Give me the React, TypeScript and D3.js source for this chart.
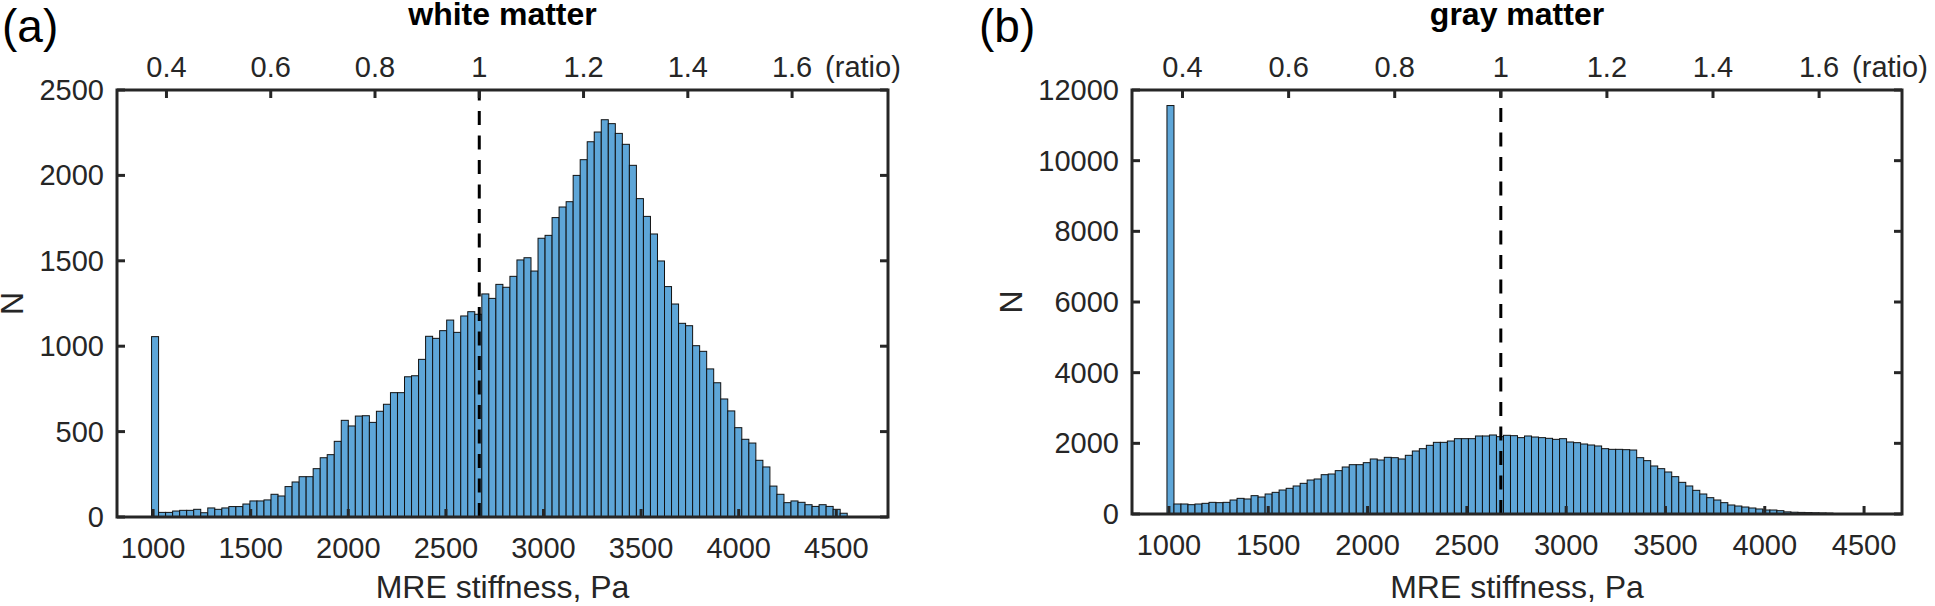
import React, { useEffect } from "react";
import * as d3 from "d3";

// ---------- data ----------
const X_TICKS = [1000, 1500, 2000, 2500, 3000, 3500, 4000, 4500];
const RATIO_TICKS = [0.4, 0.6, 0.8, 1, 1.2, 1.4, 1.6];
const REF_STIFFNESS = 2671; // ratio = 1

const WHITE_BIN_START = 992;
const WHITE_BIN_WIDTH = 36;
const WHITE_X_DOMAIN = [815, 4765];
const WHITE_Y_TICKS = [0, 500, 1000, 1500, 2000, 2500];
const WHITE_COUNTS = [
  1056, 27, 27, 35, 39, 39, 45, 25, 53, 45,
  53, 61, 61, 76, 94, 94, 100, 133, 123, 178,
  205, 236, 236, 283, 347, 365, 443, 566, 533, 591,
  593, 554, 619, 660, 728, 728, 821, 827, 923, 1058,
  1046, 1091, 1153, 1081, 1177, 1202, 1187, 1306, 1280, 1362,
  1345, 1409, 1505, 1518, 1440, 1632, 1649, 1753, 1815, 1846,
  2000, 2092, 2197, 2254, 2326, 2303, 2246, 2182, 2059, 1864,
  1760, 1657, 1499, 1349, 1247, 1134, 1120, 1003, 970, 867,
  786, 691, 621, 523, 455, 433, 332, 293, 181, 133,
  84, 94, 86, 72, 62, 72, 62, 45, 22,
];

const GRAY_BIN_START = 990;
const GRAY_BIN_WIDTH = 35.3;
const GRAY_X_DOMAIN = [814, 4691];
const GRAY_Y_TICKS = [0, 2000, 4000, 6000, 8000, 10000, 12000];
const GRAY_COUNTS = [
  11560, 283, 283, 264, 283, 302, 330, 321, 330, 396,
  443, 425, 519, 481, 566, 613, 679, 727, 793, 868,
  962, 991, 1113, 1132, 1227, 1330, 1396, 1396, 1453, 1557,
  1528, 1604, 1594, 1557, 1661, 1783, 1849, 1944, 2028, 2028,
  2066, 2132, 2132, 2132, 2208, 2208, 2236, 2189, 2227, 2217,
  2161, 2208, 2179, 2161, 2142, 2113, 2132, 2038, 2019, 1981,
  1953, 1925, 1849, 1830, 1830, 1821, 1811, 1594, 1510, 1359,
  1283, 1189, 1057, 896, 793, 670, 566, 462, 396, 321,
  255, 226, 198, 170, 142, 113, 113, 94, 60, 50,
  45, 40, 35, 30, 25,
];

// ---------- styles ----------
const FONT = "'Liberation Sans', Arial, Helvetica, sans-serif";
const AXIS_COLOR = "#262626";
const BAR_FILL = "#5ea6d8";
const BAR_EDGE = "#111111";
const TICK_LEN = 8;
const AXIS_W = 3;
const TICK_FONT = 29;
const LABEL_FONT = 32;

type Frame = { left: number; right: number; top: number; bottom: number };

function Panel(props: {
  letter: string;
  letterX: number;
  title: string;
  counts: number[];
  binStart: number;
  binWidth: number;
  xDomain: number[];
  yTicks: number[];
  frame: Frame;
  ylabelX: number;
}) {
  const { letter, letterX, title, counts, binStart, binWidth, xDomain, yTicks, frame, ylabelX } = props;
  const x = d3.scaleLinear().domain(xDomain).range([frame.left, frame.right]);
  const y = d3
    .scaleLinear()
    .domain([0, yTicks[yTicks.length - 1]])
    .range([frame.bottom, frame.top]);
  const xr = d3
    .scaleLinear()
    .domain(xDomain.map((v) => v / REF_STIFFNESS))
    .range([frame.left, frame.right]);
  const cx = (frame.left + frame.right) / 2;
  const cy = (frame.top + frame.bottom) / 2;
  const refX = x(REF_STIFFNESS);

  return (
    <g>
      <text x={letterX} y={42} fontSize={46} fontFamily={FONT} fill="#000">
        {letter}
      </text>
      <text x={cx} y={25} fontSize={LABEL_FONT} fontWeight="bold" fontFamily={FONT} textAnchor="middle" fill="#000">
        {title}
      </text>

      {/* bars */}
      <g>
        {counts.map((c, i) => {
          const x0 = binStart + i * binWidth;
          const px0 = x(x0);
          const px1 = x(x0 + binWidth);
          return (
            <rect
              key={i}
              x={px0}
              y={y(c)}
              width={px1 - px0}
              height={y(0) - y(c)}
              fill={BAR_FILL}
              stroke={BAR_EDGE}
              strokeWidth={1}
            />
          );
        })}
      </g>

      {/* reference dashed line */}
      <line
        x1={refX}
        x2={refX}
        y1={y(0)}
        y2={y(yTicks[yTicks.length - 1])}
        stroke="#000"
        strokeWidth={3}
        strokeDasharray="14 10.5"
      />

      {/* frame */}
      <rect
        x={frame.left}
        y={frame.top}
        width={frame.right - frame.left}
        height={frame.bottom - frame.top}
        fill="none"
        stroke={AXIS_COLOR}
        strokeWidth={AXIS_W}
      />

      {/* y ticks left & right */}
      {yTicks.map((t) => (
        <g key={"y" + t}>
          <line x1={frame.left} x2={frame.left + TICK_LEN} y1={y(t)} y2={y(t)} stroke={AXIS_COLOR} strokeWidth={AXIS_W} />
          <line x1={frame.right} x2={frame.right - TICK_LEN} y1={y(t)} y2={y(t)} stroke={AXIS_COLOR} strokeWidth={AXIS_W} />
          <text
            x={frame.left - 13}
            y={y(t) + 10}
            fontSize={TICK_FONT}
            fontFamily={FONT}
            textAnchor="end"
            fill={AXIS_COLOR}
          >
            {t}
          </text>
        </g>
      ))}

      {/* bottom x ticks */}
      {X_TICKS.map((t) => (
        <g key={"x" + t}>
          <line x1={x(t)} x2={x(t)} y1={frame.bottom} y2={frame.bottom - TICK_LEN} stroke={AXIS_COLOR} strokeWidth={AXIS_W} />
          <text x={x(t)} y={frame.bottom + 41} fontSize={TICK_FONT} fontFamily={FONT} textAnchor="middle" fill={AXIS_COLOR}>
            {t}
          </text>
        </g>
      ))}

      {/* top ratio ticks */}
      {RATIO_TICKS.map((t) => (
        <g key={"r" + t}>
          <line x1={xr(t)} x2={xr(t)} y1={frame.top} y2={frame.top + TICK_LEN} stroke={AXIS_COLOR} strokeWidth={AXIS_W} />
          <text x={xr(t)} y={frame.top - 13} fontSize={TICK_FONT} fontFamily={FONT} textAnchor="middle" fill={AXIS_COLOR}>
            {String(+t.toFixed(1))}
          </text>
        </g>
      ))}
      <text
        x={xr(RATIO_TICKS[RATIO_TICKS.length - 1]) + 33}
        y={frame.top - 13}
        fontSize={TICK_FONT}
        fontFamily={FONT}
        fill={AXIS_COLOR}
      >
        (ratio)
      </text>

      {/* axis labels */}
      <text x={cx} y={598} fontSize={LABEL_FONT} fontFamily={FONT} textAnchor="middle" fill={AXIS_COLOR}>
        MRE stiffness, Pa
      </text>
      <text
        transform={`translate(${ylabelX},${cy}) rotate(-90)`}
        fontSize={LABEL_FONT}
        fontFamily={FONT}
        textAnchor="middle"
        fill={AXIS_COLOR}
      >
        N
      </text>
    </g>
  );
}

export default function App() {
  useEffect(() => {
    document.body.style.margin = "0";
  }, []);
  return (
    <svg
      width={1935}
      height={606}
      viewBox="0 0 1935 606"
      style={{ position: "absolute", left: 0, top: 0, background: "#fff" }}
    >
      <rect x={0} y={0} width={1935} height={606} fill="#fff" />
      <Panel
        letter="(a)"
        letterX={2}
        title="white matter"
        counts={WHITE_COUNTS}
        binStart={WHITE_BIN_START}
        binWidth={WHITE_BIN_WIDTH}
        xDomain={WHITE_X_DOMAIN}
        yTicks={WHITE_Y_TICKS}
        frame={{ left: 117, right: 888, top: 90, bottom: 517 }}
        ylabelX={23}
      />
      <Panel
        letter="(b)"
        letterX={979}
        title="gray matter"
        counts={GRAY_COUNTS}
        binStart={GRAY_BIN_START}
        binWidth={GRAY_BIN_WIDTH}
        xDomain={GRAY_X_DOMAIN}
        yTicks={GRAY_Y_TICKS}
        frame={{ left: 1132, right: 1902, top: 90, bottom: 514 }}
        ylabelX={1022}
      />
    </svg>
  );
}
